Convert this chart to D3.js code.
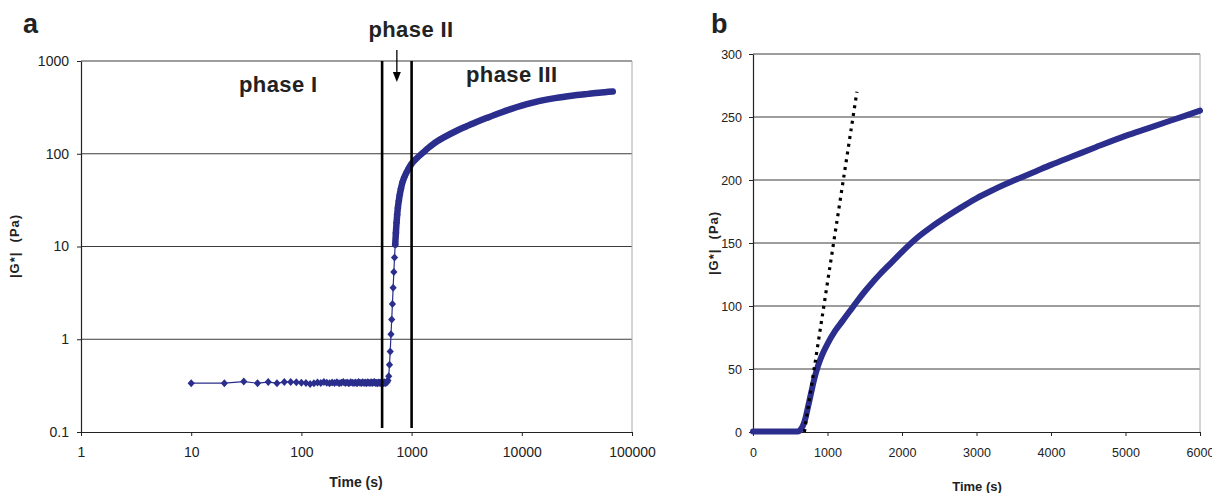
<!DOCTYPE html>
<html>
<head>
<meta charset="utf-8">
<script src="https://cdn.jsdelivr.net/npm/d3@7"></script>
<style>
  body { margin: 0; background: #fff; }
  text { font-family: "Liberation Sans", Arial, sans-serif; fill: #222; }
</style>
</head>
<body>
<script>

// panel a : |G*| against time, log-log
var timeA = [10,20,30,40,50,60,70,80,90,100,
             110,120,130,140,150,160,170,180,190,200,
             210,220,230,240,250,260,270,280,290,300,
             310,320,330,340,350,360,370,380,390,400,
             410,420,430,440,450,460,470,480,490,500,
             510,520,530,540,550,560,570,580,590,600,
             610,620,630,640,650,660,670,680,690,700,
             710,720,730,740,750,765,780,800,830,860,
             900,950,1000,1120,1260,1410,1580,2000,2510,3160,
             3980,5010,6310,7940,10000,12600,15800,20000,25100,31600,
             39800,50100,66900];
var gA = [0.336,0.336,0.350,0.336,0.345,0.336,0.345,0.346,0.344,0.340,
          0.338,0.330,0.336,0.342,0.338,0.345,0.340,0.336,0.342,0.338,
          0.344,0.336,0.340,0.345,0.338,0.342,0.336,0.344,0.340,0.338,
          0.342,0.336,0.345,0.340,0.337,0.343,0.338,0.342,0.336,0.344,
          0.340,0.338,0.343,0.337,0.341,0.345,0.338,0.340,0.336,0.342,
          0.340,0.337,0.344,0.339,0.341,0.336,0.343,0.338,0.342,0.345,
          0.36,0.40,0.53,0.74,1.13,1.63,2.4,3.6,5.3,7.6,
          10.5,14,18,22,26,31,36,42,50,56,
          63,71,78,90,102,115,128,152,175,198,
          223,248,275,303,330,355,378,398,414,429,
          442,455,468];
var phaseLines = [540, 1000];
var xTicksA = [1, 10, 100, 1000, 10000, 100000];
var yTicksA = [0.1, 1, 10, 100, 1000];

// panel b : |G*| against time, linear
var timeB = [0,100,200,300,400,500,600,620,640,660,
             680,700,720,750,780,810,840,870,900,950,
             1000,1100,1200,1300,1400,1500,1600,1700,1800,1900,
             2000,2200,2400,2600,2800,3000,3200,3400,3600,3800,
             4000,4300,4600,5000,5300,5600,6000];
var gB = [0.3,0.3,0.3,0.3,0.3,0.3,0.4,0.8,2,3.8,
          6.5,10,15,23,31,39,46,52,57,64,
          70,80,88,96,104,111.5,118.5,125,131,137,
          143,154,163,171,178.5,185.5,191.5,197,202,207,
          212,219,226,235,241,247,255];
var tangentT = [690, 1395];
var tangentG = [0, 270];
var xTicksB = [0, 1000, 2000, 3000, 4000, 5000, 6000];
var yTicksB = [0, 50, 100, 150, 200, 250, 300];

var blue = "#2b2e8c";
var gridColor = "#3c3c3c";

var svg = d3.select("body").append("svg")
    .attr("width", 1212)
    .attr("height", 493);

// diamond marker like the excel one
var diamond = "M0,-4L3.6,0L0,4L-3.6,0Z";

function styleAxis(g, size) {
  g.select(".domain").attr("stroke", "#222").attr("stroke-width", 1.2);
  g.selectAll(".tick line").attr("stroke", "#222");
  g.selectAll(".tick text")
    .attr("fill", "#222")
    .style("font-size", size + "px")
    .style("font-family", "'Liberation Sans', Arial, sans-serif");
}

// ---------- panel a ----------
var xA = d3.scaleLog().domain([1, 100000]).range([81, 632]);
var yA = d3.scaleLog().domain([0.1, 1000]).range([432, 61]);

var pa = svg.append("g").attr("class", "panel-a");

// grid
pa.selectAll(".grid")
  .data(yTicksA.slice(1))
  .enter().append("line")
    .attr("x1", xA.range()[0]).attr("x2", xA.range()[1])
    .attr("y1", function(d) { return yA(d); })
    .attr("y2", function(d) { return yA(d); })
    .attr("stroke", gridColor).attr("stroke-width", 1);

pa.append("line")
  .attr("x1", 632).attr("x2", 632).attr("y1", 61).attr("y2", 432)
  .attr("stroke", "#a8a8a8");

var axA = pa.append("g")
  .attr("transform", "translate(0,432)")
  .call(d3.axisBottom(xA).tickValues(xTicksA).tickFormat(d3.format("d"))
        .tickSize(4).tickSizeOuter(0).tickPadding(11));
styleAxis(axA, 14);

var ayA = pa.append("g")
  .attr("transform", "translate(81,0)")
  .call(d3.axisLeft(yA).tickValues(yTicksA).tickFormat(function(d) { return String(d); })
        .tickSize(4).tickSizeOuter(0).tickPadding(8));
styleAxis(ayA, 14);

var ptsA = timeA.map(function(t, i) { return [t, gA[i]]; });

// thin series line
pa.append("path")
  .datum(ptsA)
  .attr("fill", "none")
  .attr("stroke", blue)
  .attr("stroke-width", 1.2)
  .attr("d", d3.line().x(function(d) { return xA(d[0]); }).y(function(d) { return yA(d[1]); }));

// dense markers merge into a band after the gel point
pa.append("path")
  .datum(ptsA.filter(function(d) { return d[0] >= 710; }))
  .attr("fill", "none")
  .attr("stroke", blue)
  .attr("stroke-width", 6.5)
  .attr("stroke-linecap", "round")
  .attr("stroke-linejoin", "round")
  .attr("d", d3.line().curve(d3.curveMonotoneX)
        .x(function(d) { return xA(d[0]); }).y(function(d) { return yA(d[1]); }));

pa.selectAll(".mark")
  .data(ptsA.filter(function(d) { return d[0] <= 1000; }))
  .enter().append("path")
    .attr("d", diamond)
    .attr("fill", blue)
    .attr("transform", function(d) { return "translate(" + xA(d[0]) + "," + yA(d[1]) + ")"; });

// phase boundaries
pa.selectAll(".phase")
  .data(phaseLines)
  .enter().append("line")
    .attr("x1", function(d) { return xA(d); })
    .attr("x2", function(d) { return xA(d); })
    .attr("y1", 61).attr("y2", 428)
    .attr("stroke", "#000").attr("stroke-width", 2.6);

// arrow to phase II
var arrowX = (xA(phaseLines[0]) + xA(phaseLines[1])) / 2;
pa.append("line")
  .attr("x1", arrowX).attr("x2", arrowX).attr("y1", 50).attr("y2", 74)
  .attr("stroke", "#000").attr("stroke-width", 1.3);
pa.append("path")
  .attr("d", "M" + (arrowX - 4) + ",72L" + (arrowX + 4) + ",72L" + arrowX + ",82Z")
  .attr("fill", "#000");

pa.append("text").attr("x", 239).attr("y", 92)
  .style("font-size", "22px").style("font-weight", "bold").style("letter-spacing", "0.4px")
  .text("phase I");
pa.append("text").attr("x", 411).attr("y", 37).attr("text-anchor", "middle")
  .style("font-size", "22px").style("font-weight", "bold").style("letter-spacing", "0.4px")
  .text("phase II");
pa.append("text").attr("x", 466).attr("y", 82)
  .style("font-size", "22px").style("font-weight", "bold").style("letter-spacing", "0.4px")
  .text("phase III");

pa.append("text").attr("x", 23).attr("y", 33)
  .style("font-size", "27px").style("font-weight", "bold").attr("fill", "#111")
  .text("a");

pa.append("text").attr("x", 356).attr("y", 487).attr("text-anchor", "middle")
  .style("font-size", "14px").style("font-weight", "bold")
  .text("Time (s)");
pa.append("text")
  .attr("transform", "translate(19,246) rotate(-90)")
  .attr("text-anchor", "middle")
  .style("font-size", "13px").style("font-weight", "bold")
  .style("white-space", "pre").style("letter-spacing", "1px")
  .text("|G*|  (Pa)");

// ---------- panel b ----------
var xB = d3.scaleLinear().domain([0, 6000]).range([753, 1200]);
var yB = d3.scaleLinear().domain([0, 300]).range([432, 54]);

var pb = svg.append("g").attr("class", "panel-b");

pb.selectAll(".grid")
  .data(yTicksB.slice(1))
  .enter().append("line")
    .attr("x1", xB.range()[0]).attr("x2", xB.range()[1])
    .attr("y1", function(d) { return yB(d); })
    .attr("y2", function(d) { return yB(d); })
    .attr("stroke", gridColor).attr("stroke-width", 1);

pb.append("line")
  .attr("x1", 1200).attr("x2", 1200).attr("y1", 54).attr("y2", 432)
  .attr("stroke", "#a8a8a8");

var axB = pb.append("g")
  .attr("transform", "translate(0,432)")
  .call(d3.axisBottom(xB).tickValues(xTicksB).tickFormat(d3.format("d"))
        .tickSize(4).tickSizeOuter(0).tickPadding(12));
styleAxis(axB, 12.5);

var ayB = pb.append("g")
  .attr("transform", "translate(753,0)")
  .call(d3.axisLeft(yB).tickValues(yTicksB).tickFormat(d3.format("d"))
        .tickSize(4).tickSizeOuter(0).tickPadding(7));
styleAxis(ayB, 12.5);

var ptsB = timeB.map(function(t, i) { return [t, gB[i]]; });

pb.append("path")
  .datum(ptsB)
  .attr("fill", "none")
  .attr("stroke", blue)
  .attr("stroke-width", 6)
  .attr("stroke-linecap", "round")
  .attr("stroke-linejoin", "round")
  .attr("d", d3.line().curve(d3.curveMonotoneX)
        .x(function(d) { return xB(d[0]); }).y(function(d) { return yB(d[1]); }));

// dotted tangent at the gel point
pb.append("path")
  .datum(tangentT.map(function(t, i) { return [t, tangentG[i]]; }))
  .attr("fill", "none")
  .attr("stroke", "#000")
  .attr("stroke-width", 3.2)
  .attr("stroke-dasharray", "3,4.8")
  .attr("d", d3.line().x(function(d) { return xB(d[0]); }).y(function(d) { return yB(d[1]); }));

pb.append("text").attr("x", 711).attr("y", 33)
  .style("font-size", "27px").style("font-weight", "bold").attr("fill", "#111")
  .text("b");

pb.append("text").attr("x", 977).attr("y", 491).attr("text-anchor", "middle")
  .style("font-size", "13px").style("font-weight", "bold")
  .text("Time (s)");
pb.append("text")
  .attr("transform", "translate(718,243) rotate(-90)")
  .attr("text-anchor", "middle")
  .style("font-size", "13px").style("font-weight", "bold")
  .style("white-space", "pre").style("letter-spacing", "1px")
  .text("|G*|  (Pa)");

</script>
</body>
</html>
